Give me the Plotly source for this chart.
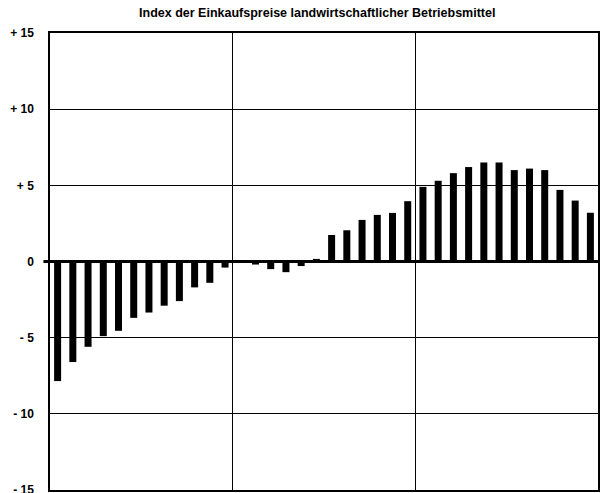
import plotly.graph_objects as go

months = list(range(1, 37))
values = [-7.85, -6.6, -5.6, -4.9, -4.55, -3.7, -3.35, -2.9, -2.6, -1.7, -1.4, -0.4,
          0.05, -0.2, -0.5, -0.7, -0.3, 0.17, 1.74, 2.05, 2.73, 3.06, 3.19, 3.96,
          4.9, 5.3, 5.8, 6.2, 6.5, 6.5, 6.0, 6.1, 6.0, 4.7, 4.0, 3.2]
ytick_vals = [15, 10, 5, 0, -5, -10, -15]
ytick_text = ["<b>+ 15</b>", "<b>+ 10</b>", "<b>+ 5</b>", "<b>0</b>", "<b>- 5</b>", "<b>- 10</b>", "<b>- 15</b>"]
year_bounds = [12.5, 24.5]

FONT = "Liberation Sans Narrow, Liberation Sans, Arial, sans-serif"

fig = go.Figure()
fig.add_trace(go.Bar(x=months, y=values, marker=dict(color="black", line=dict(width=0)),
                     width=0.46))

fig.update_layout(
    width=602, height=493,
    margin=dict(l=50, r=4, t=33, b=3, autoexpand=False),
    paper_bgcolor="white", plot_bgcolor="white",
    showlegend=False,
    title=dict(text="<b>Index der Einkaufspreise landwirtschaftlicher Betriebsmittel</b>",
               x=0.527, xanchor="center", y=0.975, yanchor="middle",
               font=dict(family=FONT, size=12.5, color="black")),
    font=dict(family=FONT, color="black"),
    shapes=[dict(type="line", xref="paper", yref="y", x0=-0.012, x1=0, y0=0, y1=0,
                 line=dict(color="black", width=3))],
)
fig.update_xaxes(range=[0.5, 36.5], tickvals=year_bounds, showticklabels=False,
                 showgrid=True, gridcolor="black", gridwidth=1.2,
                 showline=True, linecolor="black", linewidth=1.5, mirror=True,
                 ticks="", zeroline=False, automargin=False)
fig.update_yaxes(range=[-15, 15], tickvals=ytick_vals, ticktext=ytick_text,
                 tickfont=dict(family=FONT, size=12, color="black"),
                 showgrid=True, gridcolor="black", gridwidth=1.2,
                 zeroline=True, zerolinecolor="black", zerolinewidth=3,
                 showline=True, linecolor="black", linewidth=1.5, mirror=True,
                 ticks="", ticklabelstandoff=12, ticklabeloverflow="allow",
                 automargin=False)

fig.write_html("out.html", config={"displayModeBar": False},
               post_script="document.body.style.margin='0';")
